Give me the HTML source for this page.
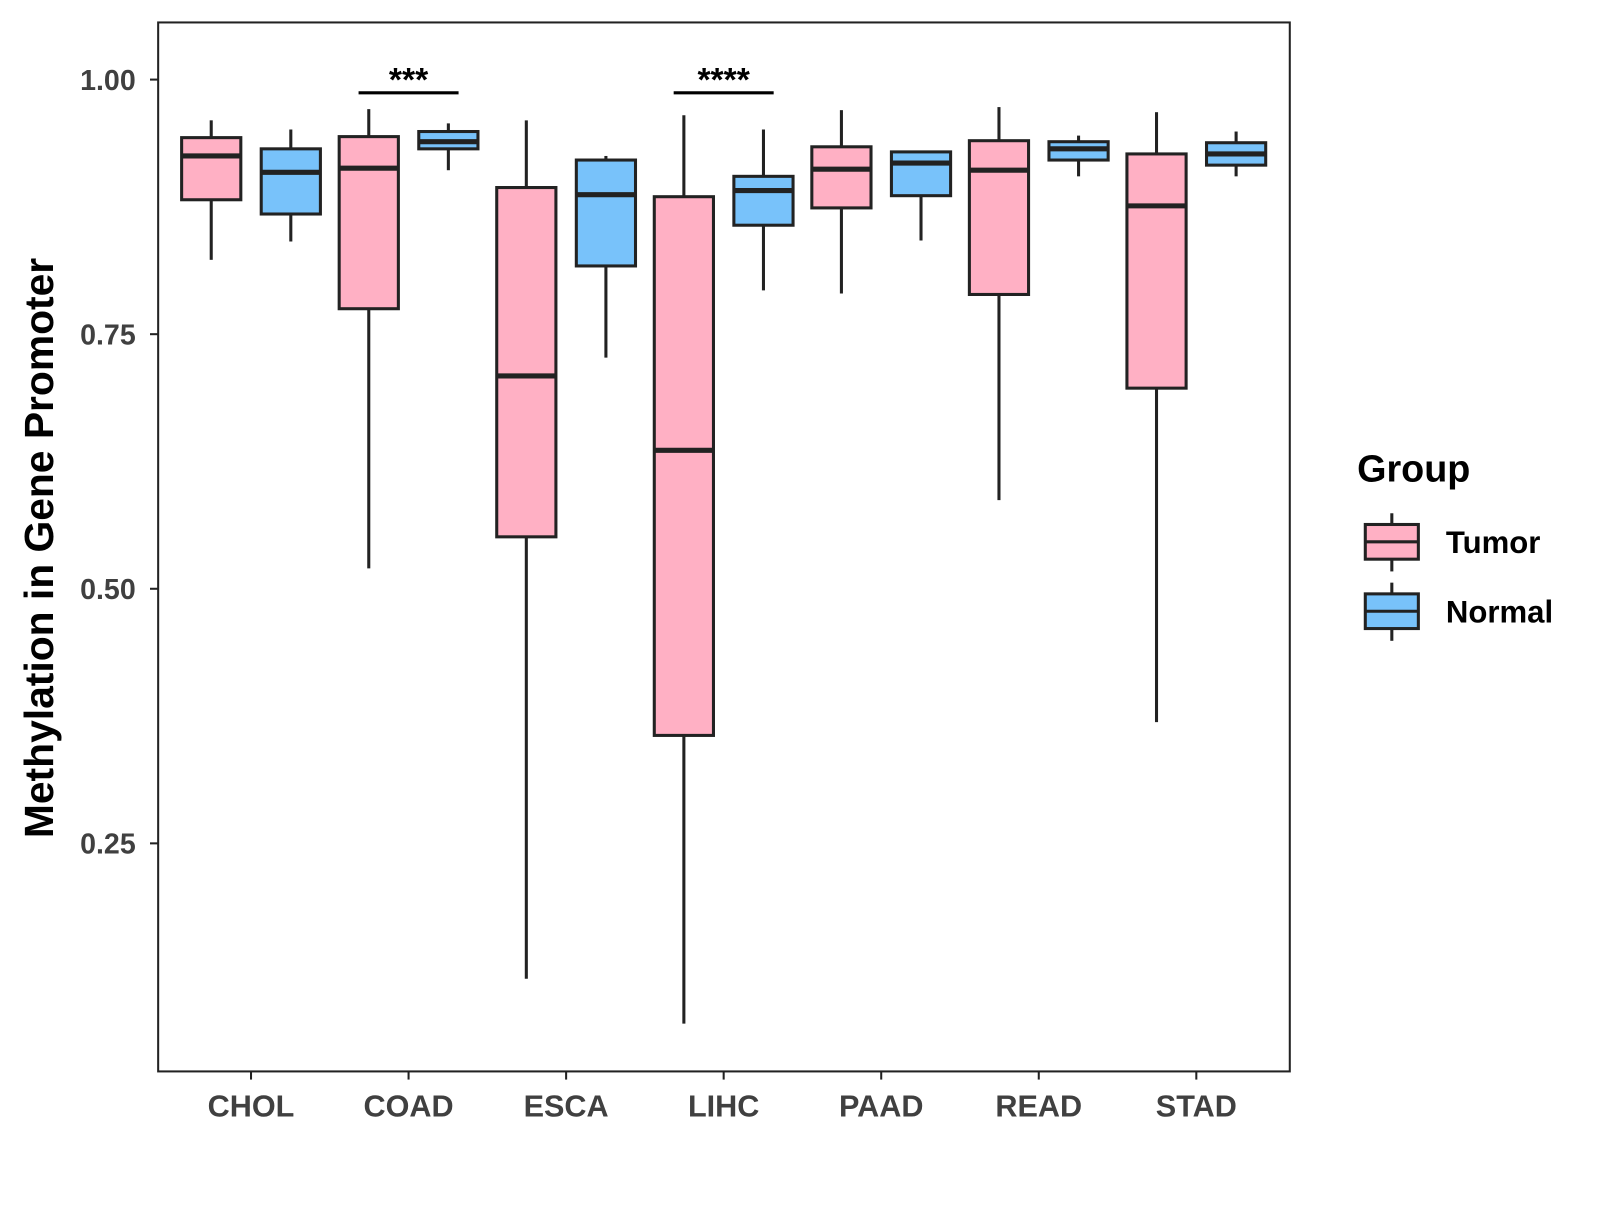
<!DOCTYPE html>
<html><head><meta charset="utf-8"><style>
body{margin:0;background:#fff;width:1600px;height:1200px;overflow:hidden}
text{font-family:"Liberation Sans",Arial,sans-serif;font-weight:bold}
</style></head><body>
<svg id="chart" width="1600" height="1200" viewBox="0 0 1600 1200" xmlns="http://www.w3.org/2000/svg">
<g transform="scale(1.0204)">
<rect x="155" y="22" width="1109" height="1028" fill="#fff" stroke="#222" stroke-width="2"/>
<g id="marks"></g>
<g id="axes"></g>
<text transform="translate(52,537) rotate(-90)" text-anchor="middle" font-size="40" fill="#000">Methylation in Gene Promoter</text>
<g>
<text x="1330" y="472" font-size="37" fill="#000">Group</text>
<g>
<line x1="1364" y1="503" x2="1364" y2="560" stroke="#222" stroke-width="3"/>
<rect x="1338" y="514" width="52" height="34" fill="#FFB0C4" stroke="#222" stroke-width="3"/>
<line x1="1338" y1="531" x2="1390" y2="531" stroke="#222" stroke-width="3"/>
<text x="1417" y="542" font-size="30.5" fill="#000">Tumor</text></g>
<g>
<line x1="1364" y1="571" x2="1364" y2="628" stroke="#222" stroke-width="3"/>
<rect x="1338" y="582" width="52" height="34" fill="#78C2FA" stroke="#222" stroke-width="3"/>
<line x1="1338" y1="599" x2="1390" y2="599" stroke="#222" stroke-width="3"/>
<text x="1417" y="610" font-size="30.5" fill="#000">Normal</text></g>
</g>
</g>
</svg>
<script>
const categories=["CHOL","COAD","ESCA","LIHC","PAAD","READ","STAD"];
const tumorLow=[0.823,0.520,0.117,0.073,0.790,0.587,0.369];
const tumorQ1=[0.882,0.775,0.551,0.356,0.874,0.789,0.697];
const tumorMed=[0.925,0.913,0.709,0.636,0.912,0.911,0.876];
const tumorQ3=[0.943,0.944,0.894,0.885,0.934,0.940,0.927];
const tumorHigh=[0.960,0.971,0.960,0.965,0.970,0.973,0.968];
const normalLow=[0.841,0.911,0.727,0.793,0.842,0.905,0.905];
const normalQ1=[0.868,0.932,0.817,0.857,0.886,0.921,0.916];
const normalMed=[0.909,0.939,0.887,0.891,0.918,0.932,0.927];
const normalQ3=[0.932,0.949,0.921,0.905,0.929,0.939,0.938];
const normalHigh=[0.951,0.957,0.925,0.951,0.930,0.945,0.949];
const yTicks=[0.25,0.50,0.75,1.00];
const yTickLabels=["0.25","0.50","0.75","1.00"];
const sigCategories=["COAD","LIHC"];
const sigLabels=["***","****"];
const sigLevel=0.987;

const NS="http://www.w3.org/2000/svg";
const y=v=>78+(1-v)*998;
const x=i=>246+i*154.4;
function mk(tag,attrs,parent){const e=document.createElementNS(NS,tag);for(const k in attrs)e.setAttribute(k,attrs[k]);parent.appendChild(e);return e;}
const marks=document.getElementById('marks'),axes=document.getElementById('axes');
const bw=58,off=39;
function box(cx,lo,q1,md,q3,hi,fill,name){
  const g=mk('g',{},marks);
  
  
  mk('line',{x1:cx,x2:cx,y1:y(hi),y2:y(q3),stroke:'#222','stroke-width':3},g);
  mk('line',{x1:cx,x2:cx,y1:y(q1),y2:y(lo),stroke:'#222','stroke-width':3},g);
  mk('rect',{x:cx-bw/2,y:y(q3),width:bw,height:y(q1)-y(q3),fill:fill,stroke:'#222','stroke-width':3},g);
  mk('line',{x1:cx-bw/2,x2:cx+bw/2,y1:y(md),y2:y(md),stroke:'#222','stroke-width':5},g);
}
categories.forEach((c,i)=>{
  box(x(i)-off,tumorLow[i],tumorQ1[i],tumorMed[i],tumorQ3[i],tumorHigh[i],'#FFB0C4','box-tumor-'+c.toLowerCase());
  box(x(i)+off,normalLow[i],normalQ1[i],normalMed[i],normalQ3[i],normalHigh[i],'#78C2FA','box-normal-'+c.toLowerCase());
  mk('line',{x1:x(i),x2:x(i),y1:1050,y2:1058,stroke:'#222','stroke-width':2},axes);
  const t=mk('text',{x:x(i),y:1094,'text-anchor':'middle','font-size':30,fill:'#404040'},axes);
  
  
  t.textContent=c;
});
yTicks.forEach((v,i)=>{
  mk('line',{x1:147,x2:155,y1:y(v),y2:y(v),stroke:'#222','stroke-width':2},axes);
  const t=mk('text',{x:133,y:y(v)+10,'text-anchor':'end','font-size':28,fill:'#404040'},axes);
  
  
  t.textContent=yTickLabels[i];
});
sigCategories.forEach((c,k)=>{
  const i=categories.indexOf(c);
  const g=mk('g',{},marks);
  
  
  mk('line',{x1:x(i)-off-10,x2:x(i)+off+10,y1:y(sigLevel),y2:y(sigLevel),stroke:'#000','stroke-width':3},g);
  const t=mk('text',{x:x(i),y:y(sigLevel)-2,'text-anchor':'middle','font-size':33,fill:'#000'},g);
  t.textContent=sigLabels[k];
});
</script>
</body></html>
